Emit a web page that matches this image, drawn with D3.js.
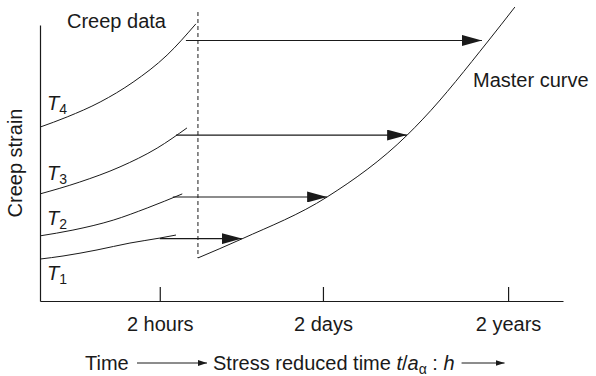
<!DOCTYPE html>
<html>
<head>
<meta charset="utf-8">
<script src="https://cdn.jsdelivr.net/npm/d3@7"></script>
<style>
  body { margin: 0; background: #fff; }
  svg text { font-family: "Liberation Sans", Arial, Helvetica, sans-serif; fill: #1a1a1a; }
</style>
</head>
<body>
<div id="chart"></div>
<script>
let width = 596, height = 376;
let ink = "#1a1a1a";

// x ticks (abstract reduced-time units) and their labels
let tickValues = [2.29, 5.41, 8.95];
let tickLabels = ["2 hours", "2 days", "2 years"];

// creep curves at four temperatures, [time, strain]
let curveT1 = [[0, 1.52], [0.44, 1.63], [1.09, 1.85], [1.72, 2.10], [2.29, 2.28], [2.60, 2.39]];
let curveT2 = [[0, 2.36], [0.63, 2.57], [1.40, 2.93], [2.05, 3.37], [2.72, 3.88]];
let curveT3 = [[0, 3.88], [0.76, 4.31], [1.53, 4.86], [2.24, 5.54], [2.81, 6.27]];
let curveT4 = [[0, 6.30], [0.52, 6.67], [1.15, 7.21], [1.78, 7.93], [2.43, 8.91], [2.98, 10.04]];
let curveNames = ["1", "2", "3", "4"];
// where each T label sits (strain units)
let labelLevels = [0.76, 2.76, 4.39, 6.92];

// shifted master curve
let masterCurve = [[3.02, 1.56], [3.86, 2.25], [5.49, 3.77], [7.02, 6.01], [7.32, 6.59], [8.57, 9.42], [9.08, 10.65]];

// horizontal shift arrows: [from, to, strain]
let shifts = [[2.29, 3.86, 2.26], [2.54, 5.49, 3.77], [2.60, 7.02, 6.01], [2.79, 8.45, 9.44]];

// reference time (dashed line)
let refTime = 3.02, refRange = [1.56, 10.47];

let svg = d3.select("#chart").append("svg")
    .attr("width", width)
    .attr("height", height);

let x = d3.scaleLinear().domain([0, 10]).range([40, 563]);
let y = d3.scaleLinear().domain([0, 10]).range([301, 25]);

let defs = svg.append("defs");
defs.append("marker")
    .attr("id", "head")
    .attr("markerUnits", "userSpaceOnUse")
    .attr("markerWidth", 21).attr("markerHeight", 11)
    .attr("refX", 20).attr("refY", 5.5)
    .attr("orient", "auto")
    .append("path").attr("d", "M0,0L20,5.5L0,11Z").attr("fill", ink);
defs.append("marker")
    .attr("id", "small")
    .attr("markerUnits", "userSpaceOnUse")
    .attr("markerWidth", 10).attr("markerHeight", 6)
    .attr("refX", 9).attr("refY", 3)
    .attr("orient", "auto")
    .append("path").attr("d", "M0,0L9,3L0,6Z").attr("fill", ink);

// axes
let xAxis = svg.append("g")
    .attr("transform", "translate(0,301)")
    .call(d3.axisBottom(x)
        .tickValues(tickValues)
        .tickFormat((d, i) => tickLabels[i])
        .tickSize(-14)
        .tickSizeOuter(0)
        .tickPadding(16));
xAxis.selectAll("path, line").attr("stroke", ink).attr("stroke-width", 1.2);
xAxis.selectAll("text").style("font-size", "20px").attr("fill", ink);

let yAxis = svg.append("g")
    .attr("transform", "translate(40,0)")
    .call(d3.axisLeft(y).tickValues([]).tickSizeOuter(0));
yAxis.select("path").attr("stroke", ink).attr("stroke-width", 1.2);

let line = d3.line()
    .x(d => x(d[0]))
    .y(d => y(d[1]))
    .curve(d3.curveMonotoneX);

// creep data curves
svg.append("g")
    .selectAll("path")
    .data([curveT1, curveT2, curveT3, curveT4, masterCurve])
    .enter()
    .append("path")
    .attr("d", line)
    .attr("fill", "none")
    .attr("stroke", ink)
    .attr("stroke-width", 1);

// dashed reference line
svg.append("line")
    .attr("x1", x(refTime)).attr("x2", x(refTime))
    .attr("y1", y(refRange[1])).attr("y2", y(refRange[0]))
    .attr("stroke", ink)
    .attr("stroke-width", 1)
    .attr("stroke-dasharray", "4,3");

// shift arrows
svg.append("g")
    .selectAll("line")
    .data(shifts)
    .enter()
    .append("line")
    .attr("x1", d => x(d[0]))
    .attr("x2", d => x(d[1]))
    .attr("y1", d => y(d[2]))
    .attr("y2", d => y(d[2]))
    .attr("stroke", ink)
    .attr("stroke-width", 1.1)
    .attr("marker-end", "url(#head)");

// T labels
let tLabels = svg.append("g")
    .selectAll("text")
    .data(curveNames)
    .enter()
    .append("text")
    .attr("x", 47)
    .attr("y", (d, i) => y(labelLevels[i]))
    .style("font-size", "20px");
tLabels.append("tspan").style("font-style", "italic").text("T");
tLabels.append("tspan").attr("dy", 4).style("font-size", "14px").text(d => d);

svg.append("text")
    .attr("x", 67).attr("y", 28)
    .style("font-size", "20px")
    .text("Creep data");

svg.append("text")
    .attr("x", 473).attr("y", 87)
    .style("font-size", "20px")
    .text("Master curve");

// y axis title
svg.append("text")
    .attr("transform", "translate(22,163) rotate(-90)")
    .attr("text-anchor", "middle")
    .style("font-size", "20px")
    .text("Creep strain");

// x axis title
svg.append("text")
    .attr("x", 85).attr("y", 370)
    .style("font-size", "20px")
    .text("Time");
svg.append("line")
    .attr("x1", 137).attr("x2", 207)
    .attr("y1", 363).attr("y2", 363)
    .attr("stroke", ink).attr("stroke-width", 1)
    .attr("marker-end", "url(#small)");

let title = svg.append("text")
    .attr("x", 213).attr("y", 370)
    .style("font-size", "20px");
title.append("tspan").text("Stress reduced time ");
title.append("tspan").style("font-style", "italic").text("t");
title.append("tspan").text("/");
title.append("tspan").style("font-style", "italic").text("a");
title.append("tspan").attr("dy", 4).style("font-size", "14px").text("\u03b1");
title.append("tspan").attr("dy", -4).text(" : ");
title.append("tspan").style("font-style", "italic").text("h");

let titleEnd = 213 + title.node().getComputedTextLength();
svg.append("line")
    .attr("x1", titleEnd + 7).attr("x2", titleEnd + 50)
    .attr("y1", 363).attr("y2", 363)
    .attr("stroke", ink).attr("stroke-width", 1)
    .attr("marker-end", "url(#small)");
</script>
</body>
</html>
